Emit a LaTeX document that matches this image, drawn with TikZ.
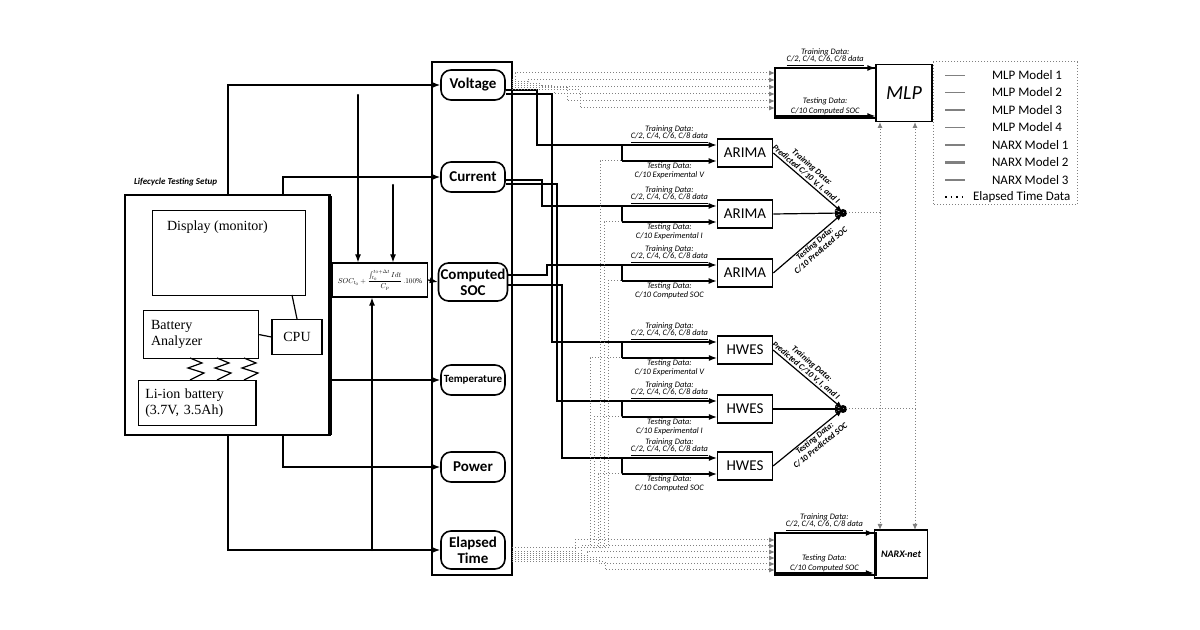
\documentclass[tikz,border=0pt]{standalone}
\usepackage{fontspec}
\setmainfont{Liberation Serif}
\newfontfamily\cf{Carlito}
\usetikzlibrary{arrows.meta,calc}
\begin{document}
\begin{tikzpicture}[x=0.5pt,y=-0.5pt,
  ln/.style={line width=0.6pt},
  ar/.style={line width=0.6pt,-{Latex[length=4pt,width=3pt]}},
  gd/.style={gray,densely dotted,line width=0.5pt,-{Latex[length=3pt,width=2.5pt]}},
  rb/.style={draw,rounded corners=5pt,line width=0.8pt,font=\cf\bfseries\fontsize{7.5}{8}\selectfont,align=center,inner sep=1pt},
  bx/.style={draw,line width=0.6pt},
  mb/.style={draw,line width=0.6pt,minimum width=27.5pt,minimum height=14pt,font=\cf\fontsize{7.5}{8}\selectfont},
  lb/.style={font=\cf\itshape\fontsize{4.2}{4.6}\selectfont,inner sep=0.5pt,align=center},
  dl/.style={font=\cf\bfseries\itshape\fontsize{4.2}{4.6}\selectfont,inner sep=0.5pt,align=center},
  sf/.style={font=\fontsize{7}{8}\selectfont,align=left}]
\useasboundingbox (0,0) rectangle (1200,630);
% lifecycle setup
\node[font=\cf\bfseries\itshape\fontsize{4.5}{5}\selectfont,anchor=south west] (lt) at (127,193) {Lifecycle Testing Setup};
\draw[line width=0.8pt] (125,195) rectangle (330,435);
\draw[line width=1.6pt] (330,196) -- (330,435);
\node[bx,minimum width=76.5pt,minimum height=42.5pt,anchor=north west] (disp) at (152,210) {};
\node[sf,anchor=north west] at (160,214) {Display (monitor)};
\node[bx,minimum width=57.5pt,minimum height=24pt,anchor=north west,sf,text width=50pt] (ba) at (143,310) {Battery\\Analyzer};
\node[bx,minimum width=25pt,minimum height=17.5pt,sf] (cpu) at (297,337) {CPU};
\node[bx,minimum width=56pt,minimum height=22.5pt,anchor=north west,sf,text width=52pt] (li) at (138,380) {Li-ion battery\\(3.7V, 3.5Ah)};
\draw[ln] (ba.east) -- (cpu.west);
\draw[ln] (292,295) -- (cpu.north);
\foreach \x in {190,217,244}{\draw[ln] (\x,358) -- ++(12,5) -- ++(-14,5) -- ++(16,5) -- ++(-14,7);}
% central column
\draw[line width=1.4pt] (432,62) rectangle (512,575);
\node[rb,minimum width=32pt,minimum height=15pt] (v) at (473,85) {Voltage};
\node[rb,minimum width=32pt,minimum height=15pt] (c) at (473,177) {Current};
\node[rb,minimum width=32pt,minimum height=19pt] (s) at (473,282) {Computed\\SOC};
\node[rb,minimum width=32pt,minimum height=15pt,font=\cf\bfseries\fontsize{5.5}{6}\selectfont] (t) at (473,380) {Temperature};
\node[rb,minimum width=32pt,minimum height=15pt] (p) at (473,467) {Power};
\node[rb,minimum width=32pt,minimum height=19pt] (e) at (473,550) {Elapsed\\Time};
% formula
\node[bx,minimum width=47.5pt,minimum height=17pt,inner sep=0pt] (f) at (380,280) {\scalebox{0.36}{$SOC_{t_0}+\displaystyle\frac{\int_{t_0}^{t_0+\Delta t} Idt}{C_p}\,.100\%$}};
\draw[ar] (f.east) -- (s.west);
\draw[ar] (228,195) -- (228,85) -- (v.west);
\draw[ar] (283,195) -- (283,177) -- (c.west);
\draw[ar] (330,380) -- (t.west);
\draw[ar] (283,435) -- (283,467) -- (p.west);
\draw[ar] (228,435) -- (228,550) -- (e.west);
\draw[ar] (358,95) -- (f.north -| 358,0);
\draw[ar] (393,185) -- (f.north -| 393,0);
\draw[ar] (372,550) -- (f.south -| 372,0);
\fill (358,95) circle (1.2) (393,185) circle (1.2) (372,550) circle (1.2);
% model blocks
\foreach \n/\y/\tx/\ty in {a1/153/ARIMA/C\slash 10 Experimental V,a2/214/ARIMA/C\slash 10 Experimental I,a3/273/ARIMA/C\slash 10 Computed SOC,h1/350/HWES/C\slash 10 Experimental V,h2/409/HWES/C\slash 10 Experimental I,h3/466/HWES/C\slash 10 Computed SOC}{
  \node[mb] (\n) at (745,\y) {\tx};
  \coordinate (\n t) at (622,\y-8);
  \coordinate (\n b) at (622,\y+8);
  \draw[ln] (\n t) -- (\n b);
  \draw[ar] (\n t) -- (\n t -| \n.west) node[lb,midway,above] {Training Data:\\[-1pt]\underline{C/2, C/4, C/6, C/8 data}};
  \draw[ar] (\n b) -- (\n b -| \n.west) node[lb,midway,below] {Testing Data:\\\ty};
}
% junctions
\fill (843,213) circle (4) coordinate (j1);
\fill (843,409) circle (4) coordinate (j2);
\foreach \a/\b/\j in {a1/a2/j1,h1/h2/j2}{
  \draw[ar] (\a.east) -- (\j) node[dl,pos=0.42,sloped,above] {Training Data:\\Predicted C/10 V, I, and I};
  \draw[ar] (\b.east) -- (\j);}
\draw[ar] (a3.east) -- (j1) node[dl,pos=0.55,sloped,below] {Testing Data:\\C/10 Predicted SOC};
\draw[ar] (h3.east) -- (j2) node[dl,pos=0.55,sloped,below] {Testing Data:\\C/10 Predicted SOC};
% MLP and NARX
\node[draw,line width=0.6pt,minimum width=28pt,minimum height=28.5pt,font=\cf\itshape\fontsize{10}{11}\selectfont] (mlp) at (904,93) {MLP};
\draw[ln] (775,68) rectangle (876,118);
\draw[ar] (775,68) -- (mlp.west |- 0,68) node[lb,midway,above] {Training Data:\\[-1pt]\underline{C/2, C/4, C/6, C/8 data}};
\draw[ar] (775,116) -- (mlp.west |- 0,116) node[lb,midway,above] {Testing Data:\\C/10 Computed SOC};
\node[draw,line width=0.6pt,minimum width=26pt,minimum height=24pt,font=\cf\bfseries\itshape\fontsize{5}{6}\selectfont] (nx) at (901,554) {NARX-net};
\draw[ln] (775,533) rectangle (876,575);
\draw[ar] (775,533) -- (nx.west |- 0,533) node[lb,midway,above] {Training Data:\\[-1pt]\underline{C/2, C/4, C/6, C/8 data}};
\draw[ar] (775,573) -- (nx.west |- 0,573) node[lb,midway,above] {Testing Data:\\C/10 Computed SOC};
\draw[gd] (j1) -- (880,213) -- (880,122);
\draw[gd] (880,213) -- (880,530);
\draw[gd] (j2) -- (915,409) -- (915,122);
\draw[gd] (915,409) -- (915,530);
% feed lines from column to model brackets
\foreach \src/\yy/\dx/\tgt in {v/90/537/a1t,c/180/542/a2t,s/275/547/a3t,v/94/552/h1t,c/184/557/h2t,s/285/562/h3t}{
  \draw[ln] (\src.east |- 0,\yy) -- (512,\yy) -- (\dx,\yy) |- (\tgt);}
\foreach \x/\tgt in {600/a1b,604/a2b,608/a3b,590/h1b,594/h2b,598/h3b}{
  \draw[gray,densely dotted,line width=0.5pt] (512,548) -| (\x,0 |- \tgt) -- (\tgt);}
% gray lines to MLP and NARX
\foreach \i/\y in {0/73,1/80,2/87,3/94,4/101,5/108}{
  \draw[gd] (512,{80+\i*2}) -- ({515+\i*13},{80+\i*2}) -- ({515+\i*13},\y) -- (775,\y);
  \draw[gd] (512,{552+\i*2}) -- ({575+\i*6},{552+\i*2}) -- ({575+\i*6},{540+\i*6}) -- (775,{540+\i*6});}
% legend
\draw[gray,densely dotted,line width=0.5pt] (933,62) rectangle (1077,205);
\foreach \i/\t in {0/MLP Model 1,1/MLP Model 2,2/MLP Model 3,3/MLP Model 4,4/NARX Model 1,5/NARX Model 2,6/NARX Model 3}{
  \draw[gray,line width={0.4pt+0.15pt*\i}] (945,{75+\i*17.5}) -- (965,{75+\i*17.5});
  \node[font=\cf\fontsize{6.5}{7}\selectfont,anchor=west] (lg\i) at (985,{75+\i*17.5}) {\t};}
\draw[line width=0.8pt,dotted] (945,197) -- (965,197);
\node[font=\cf\fontsize{6.5}{7}\selectfont,anchor=west] (lg7) at (966,197) {Elapsed Time Data};
\end{tikzpicture}
\end{document}
